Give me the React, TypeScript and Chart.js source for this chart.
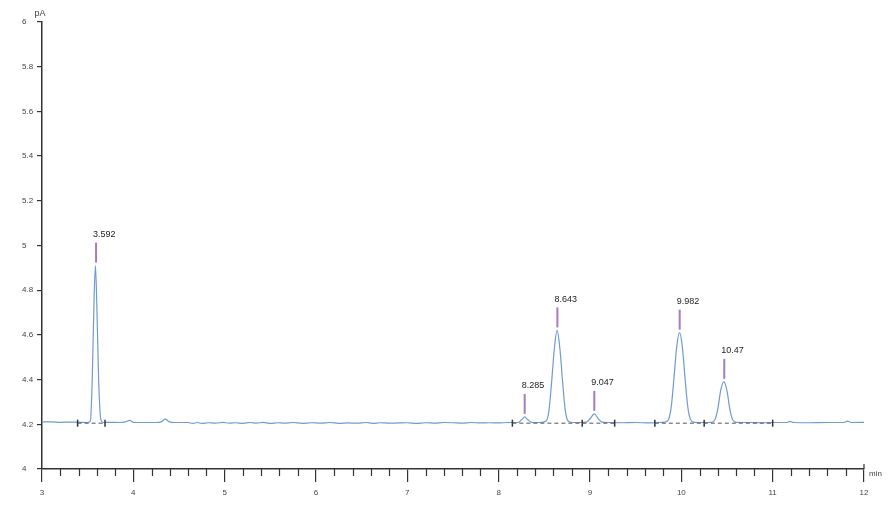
import React, { useEffect, useRef } from "react";
import { Chart, registerables } from "chart.js";

Chart.register(...registerables);

// Chromatogram trace (time in min, signal in pA)
const traceTime = [
  3.0, 3.1, 3.2, 3.3, 3.4, 3.5,
  3.53, 3.55, 3.57, 3.585, 3.6, 3.62, 3.645, 3.67,
  3.75, 3.85, 3.92, 3.96, 4.0, 4.1, 4.25, 4.31, 4.35, 4.39, 4.45,
  4.6, 4.65, 4.7, 4.75, 4.82, 4.9, 4.98, 5.05, 5.12, 5.2, 5.28, 5.35, 5.42, 5.5, 5.58, 5.65, 5.75, 5.85, 5.95,
  6.05, 6.15, 6.25, 6.35, 6.45, 6.55, 6.62, 6.7, 6.8, 6.9, 7.0, 7.1, 7.2, 7.3, 7.4, 7.5, 7.6, 7.7, 7.8, 7.9,
  8.0, 8.1, 8.21, 8.25, 8.285, 8.32, 8.36, 8.45,
  8.52, 8.55, 8.58, 8.61, 8.64, 8.67, 8.7, 8.73, 8.76, 8.8,
  8.9, 8.96, 9.0, 9.047, 9.09, 9.13, 9.2, 9.35, 9.5, 9.65, 9.75,
  9.82, 9.86, 9.89, 9.92, 9.95, 9.98, 10.01, 10.04, 10.07, 10.1, 10.14,
  10.25, 10.33, 10.37, 10.4, 10.43, 10.465, 10.5, 10.53, 10.56, 10.6,
  10.75, 10.9, 11.0, 11.15, 11.19, 11.23, 11.4, 11.6, 11.78, 11.82, 11.86, 12.0,
];
const traceSignal = [
  4.21, 4.211, 4.209, 4.21, 4.209, 4.208,
  4.215, 4.4, 4.76, 4.91, 4.74, 4.4, 4.22, 4.208,
  4.209, 4.208, 4.212, 4.218, 4.209, 4.208, 4.208, 4.212, 4.223, 4.212, 4.208,
  4.208, 4.204, 4.208, 4.204, 4.207, 4.205, 4.209, 4.205, 4.207, 4.204, 4.208, 4.205, 4.209, 4.204, 4.207, 4.205, 4.208, 4.204, 4.207,
  4.205, 4.208, 4.204, 4.206, 4.205, 4.208, 4.204, 4.207, 4.205, 4.206, 4.207, 4.204, 4.207, 4.205, 4.208, 4.207, 4.205, 4.208, 4.206, 4.207,
  4.206, 4.208, 4.208, 4.22, 4.233, 4.22, 4.209, 4.208,
  4.215, 4.26, 4.39, 4.54, 4.62, 4.54, 4.39, 4.26, 4.215, 4.208,
  4.208, 4.21, 4.225, 4.247, 4.225, 4.21, 4.208, 4.207, 4.208, 4.206, 4.208,
  4.21, 4.222, 4.28, 4.41, 4.55, 4.61, 4.55, 4.41, 4.28, 4.222, 4.209,
  4.208, 4.209, 4.222, 4.27, 4.35, 4.39, 4.35, 4.27, 4.222, 4.209,
  4.208, 4.207, 4.208, 4.208, 4.213, 4.208, 4.207, 4.208, 4.208, 4.214, 4.208, 4.209,
];

// Peak annotations
const peakTimes = [3.592, 8.285, 8.643, 9.047, 9.982, 10.47];
const peakTops = [4.91, 4.233, 4.62, 4.247, 4.61, 4.39];
const peakLabels = ["3.592", "8.285", "8.643", "9.047", "9.982", "10.47"];

// Integration baselines
const integStartA = [3.39, 3.69];
const integStartB = [8.15, 9.27];
const integStartC = [9.71, 11.0];
const integLevel = 4.205;
const integMarks = [3.39, 3.69, 8.15, 8.915, 9.27, 9.71, 10.25, 11.0];

// Axis ticks
const xMin = 3;
const xMax = 12;
const yMin = 4;
const yMax = 6;

const annotPlugin = {
  id: "annot",
  afterDatasetsDraw(chart: any) {
    const { ctx, chartArea, scales } = chart;
    const xs = scales.x;
    const ys = scales.y;
    ctx.save();
    // peak markers and labels
    peakTimes.forEach((t, i) => {
      const px = xs.getPixelForValue(t);
      const py = ys.getPixelForValue(peakTops[i]);
      ctx.strokeStyle = "#a47cbf";
      ctx.lineWidth = 2;
      ctx.beginPath();
      ctx.moveTo(px, py - 3);
      ctx.lineTo(px, py - 23);
      ctx.stroke();
      ctx.fillStyle = "#222";
      ctx.font = "9px 'Liberation Sans', Arial, sans-serif";
      ctx.textAlign = "left";
      ctx.textBaseline = "middle";
      ctx.fillText(peakLabels[i], px - 3, py - 31);
    });
    ctx.restore();
  },
  afterDraw(chart: any) {
    const { ctx, chartArea, scales } = chart;
    const xs = scales.x;
    ctx.save();
    ctx.strokeStyle = "#333";
    ctx.lineWidth = 1.2;
    // minor x ticks
    for (let i = xMin * 5 + 1; i < xMax * 5; i++) {
      if (i % 5 === 0) continue;
      const px = Math.round(xs.getPixelForValue(i / 5)) + 0.5;
      ctx.beginPath();
      ctx.moveTo(px, chartArea.bottom);
      ctx.lineTo(px, chartArea.bottom + 7);
      ctx.stroke();
    }
    // end mark of x axis
    const ex = xs.getPixelForValue(xMax);
    ctx.beginPath();
    ctx.moveTo(ex, chartArea.bottom);
    ctx.lineTo(ex, chartArea.bottom - 5);
    ctx.stroke();
    // axis units
    ctx.fillStyle = "#444";
    ctx.font = "9px 'Liberation Sans', Arial, sans-serif";
    ctx.textAlign = "center";
    ctx.textBaseline = "middle";
    ctx.fillText("pA", chartArea.left - 2, chartArea.top - 8);
    ctx.font = "8px 'Liberation Sans', Arial, sans-serif";
    ctx.textAlign = "left";
    ctx.fillText("min", ex + 5, chartArea.bottom + 5);
    ctx.restore();
  },
};

export default function App() {
  const ref = useRef<HTMLCanvasElement | null>(null);
  useEffect(() => {
    if (!ref.current) return;
    const trace = traceTime.map((t, i) => ({ x: t, y: traceSignal[i] }));
    const seg = (a: number[]) => a.map((t) => ({ x: t, y: integLevel }));
    const chart = new Chart(ref.current, {
      type: "line",
      data: {
        datasets: [
          {
            data: seg(integStartA),
            borderColor: "#555",
            borderWidth: 1,
            borderDash: [4, 3],
            pointRadius: 0,
          },
          {
            data: seg(integStartB),
            borderColor: "#555",
            borderWidth: 1,
            borderDash: [4, 3],
            pointRadius: 0,
          },
          {
            data: seg(integStartC),
            borderColor: "#555",
            borderWidth: 1,
            borderDash: [4, 3],
            pointRadius: 0,
          },
          {
            data: integMarks.map((t) => ({ x: t, y: integLevel })),
            showLine: false,
            pointStyle: "line",
            rotation: 90,
            pointRadius: 3.5,
            pointBorderColor: "#333",
            pointBorderWidth: 1.5,
          },
          {
            data: trace,
            borderColor: "#6f9bd1",
            borderWidth: 1.2,
            pointRadius: 0,
            cubicInterpolationMode: "monotone",
          },
        ],
      },
      options: {
        responsive: false,
        animation: false,
        devicePixelRatio: 1,
        layout: { padding: { left: 22, top: 22, right: 31, bottom: 0 } },
        plugins: { legend: { display: false }, tooltip: { enabled: false } },
        scales: {
          x: {
            type: "linear",
            min: xMin,
            max: xMax,
            afterFit: (s: any) => {
              s.height = 42;
            },
            grid: {
              drawOnChartArea: false,
              drawTicks: true,
              tickLength: 13,
              color: "#333",
              lineWidth: 1.2,
            },
            border: { display: true, color: "#333", width: 1.5 },
            ticks: {
              stepSize: 1,
              autoSkip: false,
              maxRotation: 0,
              padding: 6,
              color: "#444",
              font: { size: 8, family: "'Liberation Sans', Arial, sans-serif" },
              callback: (v: any) => String(v),
            },
          },
          y: {
            type: "linear",
            min: yMin,
            max: yMax,
            afterFit: (s: any) => {
              s.width = 20;
            },
            grid: {
              drawOnChartArea: false,
              drawTicks: true,
              tickLength: 5,
              color: "#333",
              lineWidth: 1.2,
            },
            border: { display: true, color: "#333", width: 1.5 },
            ticks: {
              stepSize: 0.2,
              autoSkip: false,
              crossAlign: "far",
              color: "#444",
              font: { size: 8, family: "'Liberation Sans', Arial, sans-serif" },
              callback: (v: any) => String(Number(Number(v).toFixed(1))),
            },
          },
        },
      },
      plugins: [annotPlugin],
    });
    return () => chart.destroy();
  }, []);
  return (
    <div style={{ position: "fixed", left: 0, top: 0, width: 895, height: 511, background: "#fff" }}>
      <canvas ref={ref} width={895} height={511} style={{ display: "block" }} />
    </div>
  );
}
